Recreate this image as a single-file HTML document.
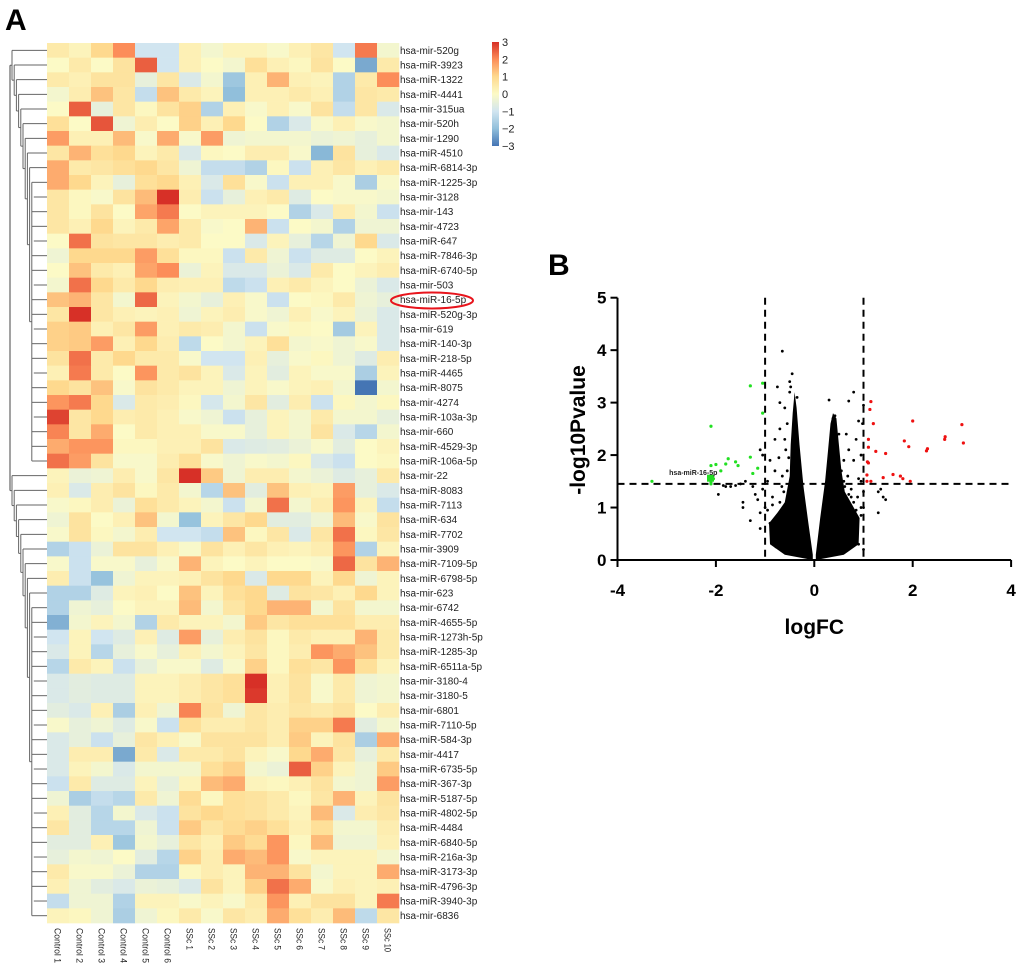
<!DOCTYPE html>
<html><head><meta charset="utf-8"><style>
html,body{margin:0;padding:0;background:#fff;}
svg{display:block;font-family:"Liberation Sans",Arial,sans-serif;}
</style></head><body>
<svg id="fig" width="1020" height="966" viewBox="0 0 1020 966" xmlns="http://www.w3.org/2000/svg">
<text x="5" y="30" font-size="30" font-weight="bold">A</text>
<text x="548" y="275" font-size="30" font-weight="bold">B</text>
<g id="dendro"></g>
<g id="heat"></g>
<g id="rowlabels"></g>
<g id="collabels"></g>
<ellipse cx="432" cy="300.5" rx="41" ry="8" fill="none" stroke="#e8141c" stroke-width="2"/>
<defs><linearGradient id="cb" x1="0" y1="0" x2="0" y2="1">
<stop offset="0" stop-color="#d73027"/><stop offset="0.1667" stop-color="#fc8d59"/><stop offset="0.3333" stop-color="#fed98e"/><stop offset="0.5" stop-color="#fcfac6"/><stop offset="0.6667" stop-color="#d1e5f0"/><stop offset="0.8333" stop-color="#91bfdb"/><stop offset="1" stop-color="#4575b4"/></linearGradient></defs>
<g>
<rect x="492" y="42" width="7" height="104" fill="url(#cb)"/>
<g id="cbticks" font-size="11" fill="#222"></g>
</g>
<g id="volcano"></g>
</svg>
<script>
const NS='http://www.w3.org/2000/svg';
function mk(tag,attrs,parent){const e=document.createElementNS(NS,tag);for(const k in attrs)e.setAttribute(k,attrs[k]);parent.appendChild(e);return e;}

const rowNames=["hsa-mir-520g","hsa-miR-3923","hsa-miR-1322","hsa-miR-4441","hsa-mir-315ua","hsa-mir-520h","hsa-mir-1290","hsa-miR-4510","hsa-miR-6814-3p","hsa-miR-1225-3p","hsa-mir-3128","hsa-mir-143","hsa-mir-4723","hsa-miR-647","hsa-miR-7846-3p","hsa-miR-6740-5p","hsa-mir-503","hsa-miR-16-5p","hsa-miR-520g-3p","hsa-mir-619","hsa-miR-140-3p","hsa-miR-218-5p","hsa-miR-4465","hsa-miR-8075","hsa-mir-4274","hsa-miR-103a-3p","hsa-mir-660","hsa-miR-4529-3p","hsa-miR-106a-5p","hsa-mir-22","hsa-miR-8083","hsa-miR-7113","hsa-miR-634","hsa-miR-7702","hsa-mir-3909","hsa-miR-7109-5p","hsa-miR-6798-5p","hsa-mir-623","hsa-mir-6742","hsa-miR-4655-5p","hsa-miR-1273h-5p","hsa-miR-1285-3p","hsa-miR-6511a-5p","hsa-mir-3180-4","hsa-mir-3180-5","hsa-mir-6801","hsa-miR-7110-5p","hsa-miR-584-3p","hsa-mir-4417","hsa-miR-6735-5p","hsa-miR-367-3p","hsa-miR-5187-5p","hsa-miR-4802-5p","hsa-miR-4484","hsa-miR-6840-5p","hsa-miR-216a-3p","hsa-miR-3173-3p","hsa-miR-4796-3p","hsa-miR-3940-3p","hsa-mir-6836"];
const colNames=["Control 1","Control 2","Control 3","Control 4","Control 5","Control 6","SSc 1","SSc 2","SSc 3","SSc 4","SSc 5","SSc 6","SSc 7","SSc 8","SSc 9","SSc 10"];
const heatValues=[
[0.5,0.2,1,2,-1,-1,0.3,-0.2,0.2,0.2,-0.1,0.3,0.6,-1,2.2,-0.2],
[0,0.5,0,0.7,2.5,-1,0.3,0,-0.2,0.8,0.3,0.1,0.7,0,-2.3,0.5],
[0.5,0.3,0.7,0.7,-0.5,0.6,-0.8,-0.2,-1.8,0.3,1.5,0.3,0.2,-1.5,0.5,2],
[-0.2,0.4,1.3,0.6,-1.2,1.3,0.5,0.2,-2,0.3,0.3,0.5,0.3,-1.5,0.6,0.5],
[0,2.5,-0.5,0.6,0.1,0.7,1.1,-1.5,0.3,-0.1,0.3,-0.1,0.7,-1.2,0.6,-0.8],
[0.8,0,2.6,-0.3,0.4,0,1.1,0.3,1,0,-1.5,-0.8,-0.1,0.3,-0.1,-0.2],
[1.8,0.3,0.3,1.4,-0.1,1.6,-0.1,1.8,-0.3,-0.2,-0.2,-0.2,-0.4,-0.3,-0.5,-0.2],
[0.6,1.5,0.8,1,0.2,0.5,-0.8,0.1,0,0.4,0.4,-0.1,-2.1,0.7,-0.5,-0.8],
[1.6,0.5,0.6,0.8,1,0.6,-0.3,-1.2,-1.2,-1.5,0.1,-1.1,0.3,0.6,0.3,0.5],
[1.6,1,0.2,-0.5,0.8,1,0.3,-0.8,0.8,-0.1,-1.1,0.3,0.3,-0.1,-1.6,-0.1],
[0.6,0.1,-0.1,0.7,1.4,3,0.4,-1.1,-0.5,0.3,0.5,-0.7,0,-0.1,-0.1,-0.2],
[0.6,0.1,0.7,0,1.7,2.2,0,0.2,0.2,0.2,0,-1.5,-0.8,0.4,-0.2,-1.1],
[0.6,0.3,1,0.2,0.5,1.7,0.5,-0.1,0,1.5,-1.1,0,-0.2,-1.5,-0.3,-0.3],
[0,2.3,0.7,0.6,0.6,0.4,0.5,0,0,-0.8,0.2,-0.5,-1.4,-0.3,1,-0.8],
[-0.3,1,1,1,1.8,0.8,0.1,0.1,-1.1,0.5,-0.3,-1.1,-0.7,-0.7,0,0.2],
[0,1.3,0.5,0.3,1.7,2,-0.4,0.2,-0.8,-0.8,-0.4,-0.8,0.5,0,0.2,0.4],
[-0.2,2.3,1,0.5,1,0.4,0.3,0.3,-1.3,-1.1,0.3,0.5,0.2,0,-0.4,-0.8],
[1.3,1.5,0.6,-0.2,2.4,0.2,-0.2,-0.5,0.3,-0.1,-1.1,0,0.1,0.5,-0.3,-0.5],
[0.6,3,0.6,0.3,0.2,0.3,-0.3,0.2,0.4,-0.1,-0.3,0.3,-0.1,0.2,-0.4,-0.8],
[1.1,1.2,0.3,0.6,1.8,0.3,0.5,0.4,-0.2,-1.1,-0.1,0.1,0,-1.7,0.2,-0.8],
[1.1,1.2,1.8,0.3,1,0.4,-1.3,0,-0.2,0.2,0.8,-0.2,-0.1,-0.3,-0.1,-0.8],
[0.7,2.3,0.5,1,0.5,0.5,-0.1,-1,-1,0.3,-0.5,-0.1,0.1,-0.3,-0.7,0.4],
[0.3,2.2,0.5,0,1.9,0.5,0.7,0.2,-0.8,0.2,-0.6,0.2,-0.1,-0.1,-1.6,0.2],
[1,0.7,1.3,-0.1,0.7,0.5,0.2,0.2,-0.3,0.2,-0.1,0.2,0.3,-0.2,-3,-0.2],
[1.9,2.2,1,-0.8,0.5,0.4,0.1,-0.9,-0.2,0.6,-0.6,0.4,-1.1,0.1,-0.2,0.1],
[2.8,0.6,1,0.4,0.5,0.3,-0.1,-0.3,-1.1,-0.5,0.2,-0.2,0.5,-0.2,-0.2,-0.5],
[2.1,0.6,1.6,0,0.5,0.3,0.3,-0.1,-0.1,-0.5,0.2,-0.2,0.7,-0.8,-1.4,-0.2],
[1.6,1.9,1.9,0.1,0.1,0.3,0.3,0.7,-0.8,-0.7,-0.6,-0.4,-0.1,-0.6,0,0.2],
[2.3,1.8,0.7,-0.1,-0.1,0.4,0.8,-0.1,-0.3,-0.1,-0.2,0.1,-0.8,-1.1,0,0.1],
[0.2,-0.4,-0.3,0.4,-0.1,0.6,3,1.2,-0.3,0.4,0.4,-0.2,-0.4,-0.7,-0.5,0.5],
[0.3,-0.8,0.4,0.7,0.1,0.5,-0.2,-1.4,1.3,-0.6,1.3,0.3,0.2,1.8,-0.5,-0.8],
[-0.1,0.1,0.4,-0.4,0.8,0.5,0.2,-0.2,-1.1,-0.2,2.3,-0.2,0.4,1.9,0.2,-1.2],
[-0.3,0.7,0,0.3,1.3,-0.2,-1.9,0.2,0.6,1,-0.6,-0.6,-0.3,1.4,-0.1,0.7],
[-0.1,0.7,0.1,-0.2,0.4,-1,-1,-1.2,1.3,0.1,0.6,-0.8,0.6,2.3,0.1,0.6],
[-1.5,-1.1,-0.4,0.7,0.7,0.3,-0.1,0.7,0.3,0.6,0.3,0.2,0.4,1.9,-1.5,0.2],
[-0.1,-1.1,-0.1,-0.1,-0.5,-0.1,1.5,0.2,0,0.2,0,0,-0.1,2.4,0.7,1.5],
[0.4,-1.1,-1.9,-0.3,0.2,0.2,0.3,0.7,1,-0.8,1,1,0.2,1,-0.3,0.2],
[-1.5,-1.5,-0.7,0.2,0.3,0,1.3,0.2,0.8,1,-0.7,0.7,0.6,0.3,1,0.2],
[-1.5,-0.3,-0.5,0,0.2,0.2,1.4,-0.2,0.6,1,1.5,1.5,-0.2,0.7,-0.2,-0.2],
[-2.2,-0.2,0.2,-0.2,-1.5,0.5,0.2,0.2,-0.2,1.2,0.6,0.8,0.8,0.8,0.4,0.4],
[-1,0.2,-1,-0.7,0.3,-0.7,1.8,-0.5,0.4,0.7,0.1,0.5,0.3,0.3,1.5,0.5],
[-0.8,0.2,-1.4,-0.5,-0.1,-0.5,0.3,-0.2,0.2,0.6,0.1,0.4,1.9,1.6,1.3,0.5],
[-1.4,0.5,0.2,-1.1,-0.5,-0.1,-0.1,-0.7,-0.1,1.1,0.1,0.8,0.6,1.9,0.8,0.2],
[-0.8,-0.6,-0.7,-0.7,0.2,0.2,0.4,0.6,0.8,3,0.3,0.7,-0.1,0.5,-0.3,-0.2],
[-0.8,-0.6,-0.7,-0.7,0.2,0.2,0.4,0.6,0.8,2.9,0.3,0.7,-0.1,0.5,-0.3,-0.2],
[-0.6,-0.8,0.3,-1.6,0.3,-0.3,2.1,0.7,-0.3,0.6,0.4,0.6,0.5,0.7,0,0.4],
[-0.1,-0.5,-0.3,-0.7,-0.1,-1.1,0.8,0.4,0.4,0.6,0.4,1.1,1.1,2.2,-0.6,-0.2],
[-0.8,-0.5,-1.1,-0.5,0.6,0.3,-0.1,0.7,0.7,0.7,0.4,1.2,0.2,0.7,-1.6,1.6],
[-0.8,0.4,0.4,-2.3,0.5,-0.8,0.5,0.5,0.7,0.2,-0.1,1,1.6,0.6,-0.5,0.5],
[-0.8,0.2,-0.2,-0.8,-0.2,-0.2,-0.2,0.8,1.1,-0.2,-0.4,2.5,1.1,0.2,-0.3,1.2],
[-1.1,0.5,-0.7,-0.7,0.2,-0.5,0.2,1.4,1.6,0.2,0.1,0.3,0.7,-0.2,-0.3,1.8],
[-0.3,-1.6,-1.2,-1.4,0.5,-0.3,0.9,0.1,0.8,0.7,0.5,0.1,0.6,1.5,0.2,0.7],
[0.3,-0.6,-1.4,-0.2,-0.8,-1.1,0.7,1,0.8,0.7,0.5,0.2,1.4,-0.8,0.4,0.6],
[0.6,-0.6,-1.4,-1.4,-0.3,-1.1,1.2,0.6,0.9,1.1,0.8,0.3,0.8,-0.2,-0.2,0.4],
[-0.6,-0.6,0.3,-1.8,-0.2,-0.5,0.6,0.3,1.2,0.9,1.9,0.1,1.4,-0.3,-0.3,0.3],
[-0.5,-0.2,-0.3,0,-0.6,-1.4,1.1,0.4,1.6,1.4,1.9,-0.1,0.2,0.2,0.2,-0.2],
[0.5,-0.1,-0.1,-0.4,-1.5,-1.5,0.1,0.4,0.2,1.5,1.5,0.7,-0.2,0.2,0.2,1.6],
[0.3,-0.3,-0.6,-0.8,-0.4,-0.5,-0.8,0.7,0.2,1.1,2.3,1.6,-0.1,0.3,0.2,0.3],
[-1.2,-0.3,-0.3,-1.5,0.2,0.2,-0.1,0.2,-0.1,0.5,1.9,0.3,0.7,0.7,0.2,2.2],
[0.2,0.1,-0.3,-1.6,-0.3,0.1,0.5,-0.1,0.6,0.4,1.6,0.8,0.4,1.4,-1.3,0.6]];
const legendTicks=[3,2,1,0,-1,-2,-3];

const greenX=[-3.3,-2.1,-2.1,-2,-1.9,-1.8,-1.75,-1.6,-1.55,-1.3,-1.25,-1.15,-1.3,-1.05,-1.05,-2.1,-2.05,-2.1,-2.08];
const greenY=[1.5,2.55,1.8,1.82,1.7,1.83,1.93,1.87,1.8,1.96,1.65,1.75,3.32,3.37,2.8,1.5,1.55,1.45,1.58];
const redX=[1.15,1.13,1.2,1.1,1.1,1.25,1.45,1.08,1.1,1.07,1.07,1.15,1.4,1.6,1.75,1.8,1.95,1.83,1.92,2,2.28,2.3,2.65,2.66,3,3.03];
const redY=[3.02,2.87,2.6,2.3,2.15,2.07,2.03,1.87,1.85,1.62,1.5,1.5,1.57,1.63,1.6,1.55,1.5,2.27,2.16,2.65,2.08,2.12,2.3,2.35,2.58,2.23];
const blackX=[-0.65,-0.45,-0.5,-0.48,-0.5,-0.75,-0.7,-0.6,-0.55,-0.7,-0.6,-0.35,-1.1,-1.05,-0.9,-0.72,-0.8,-0.95,-1.4,-1.6,-1.8,-1.85,-1.95,-2.1,-1.45,-1.45,-1.2,-1.15,-1.1,-1.3,-1.05,-0.85,-1,-1.1,0.3,0.42,0.38,0.7,0.8,0.9,0.5,0.65,0.7,0.85,0.95,0.8,0.9,0.95,1.0,0.98,1.0,1.0,0.95,1.35,1.3,1.4,1.45,1.3,1.0,0.9,0.6,0.7,0.75,0.6,0.5,-1.25,-1.5,-1.7,-0.8,-0.65,-0.95,-0.85,-0.7,-0.62,-0.55,-0.52,-0.58,-0.66,-0.9,-0.78,0.62,0.7,0.8,0.88,0.95,0.55,0.6,0.68,0.75,0.85];
const blackY=[3.98,3.55,3.4,3.3,3.2,3.3,3.0,2.9,2.6,2.5,2.3,3.1,2.1,2.0,1.9,1.95,1.7,1.5,1.5,1.42,1.4,1.42,1.25,1.47,1.1,1.0,1.25,1.15,0.9,0.75,1.35,1.2,1.0,0.6,3.05,2.75,2.7,3.03,3.2,2.65,2.4,2.4,2.1,2.3,2.0,1.9,1.55,1.5,2.95,2.6,1.3,1.0,0.85,1.35,1.3,1.2,1.15,0.9,0.2,0.3,0.4,0.6,1.2,1.5,1.8,1.4,1.45,1.4,2.3,1.6,0.95,1.05,1.1,1.3,1.7,1.95,2.1,1.4,0.7,0.25,1.4,1.25,1.1,1.2,1.0,1.7,1.9,1.6,1.35,0.95];
const cloudLeftX=[-0.03,-0.6,-0.9,-0.92,-0.75,-0.6,-0.5,-0.48,-0.44,-0.4,-0.36,-0.3,-0.22,-0.12,-0.03];
const cloudLeftY=[0,0.1,0.3,0.7,0.9,1.1,1.6,2.2,2.8,3.2,2.9,2.2,1.4,0.7,0.1];
const cloudRightX=[0.03,0.12,0.22,0.28,0.33,0.38,0.45,0.5,0.55,0.62,0.8,0.92,0.9,0.6,0.03];
const cloudRightY=[0.1,0.8,1.5,2.1,2.6,2.8,2.7,2.2,1.7,1.3,1.0,0.8,0.3,0.1,0];
const xTicks=[-4,-2,0,2,4];
const yTicks=[0,1,2,3,4,5];
const thresholdX=[-1,1];
const thresholdY=[1.45];

const hx0=47,hy0=43,cw=22,rh=14.667;
const stops=[[-3,[69,117,180]],[-2,[145,191,219]],[-1,[209,229,240]],[0,[252,250,198]],[1,[254,217,142]],[2,[252,141,89]],[3,[215,48,39]]];
function colorFor(v){v=Math.max(-3,Math.min(3,v));for(let i=0;i<stops.length-1;i++){const a=stops[i],b=stops[i+1];if(v<=b[0]){const t=(v-a[0])/(b[0]-a[0]);const c=a[1].map((x,k)=>Math.round(x+(b[1][k]-x)*t));return 'rgb('+c.join(',')+')';}}return 'rgb(215,48,39)';}
const heat=document.getElementById('heat');
heatValues.forEach((row,r)=>{row.forEach((v,c)=>{
const el=mk('rect',{x:hx0+c*cw,y:(hy0+r*rh).toFixed(2),width:cw+0.3,height:(rh+0.3).toFixed(2),fill:colorFor(v)},heat);


});});
const rl=document.getElementById('rowlabels');
rowNames.forEach((n,r)=>{
const t=mk('text',{x:400,y:(hy0+(r+0.5)*rh+3.5).toFixed(1),'font-size':'10',fill:'#222'},rl);t.textContent=n;


});
const cl=document.getElementById('collabels');
colNames.forEach((n,c)=>{const cx=hx0+(c+0.5)*cw-3.5;
const len=n.indexOf('Control')===0?35:(n.length>5?24:22);
const t=mk('text',{x:cx,y:928,'font-size':'9.5',fill:'#222',textLength:len,lengthAdjust:'spacingAndGlyphs',transform:'rotate(90 '+cx+' 928)'},cl);t.textContent=n;


});
const cbt=document.getElementById('cbticks');
legendTicks.forEach(v=>{const y=42+(3-v)/6*104;
const t=mk('text',{x:502,y:(y+4).toFixed(1),'font-size':'11',fill:'#222'},cbt);t.textContent=(v<0?'\u2212':'')+Math.abs(v);


});

const dg=document.getElementById('dendro');
const ry=i=>hy0+(i+0.5)*rh;
function seg(x1,y1,x2,y2,col){const l=mk('line',{x1,y1,x2,y2,stroke:col||'#666','stroke-width':1},dg);}
function ladder(lo,hi,xs){
  const spineX=31;
  function build(l,h,x){
    if(l===h){seg(x,ry(l),hx0,ry(l));return ry(l);}
    if(x>=spineX-1){
      seg(x,ry(l),hx0,ry(l));seg(x,ry(h),hx0,ry(h));
      for(let i=l+1;i<h;i++)seg(x+(i%3===1?2:0),ry(i),hx0,ry(i));
      seg(x,ry(l),x,ry(h));return (ry(l)+ry(h))/2;}
    const y1=ry(l);seg(x,y1,hx0,y1);
    const y2=build(l+1,h,x+2.2);seg(x,y2,x+2.2,y2);
    seg(x,y1,x,y2);return (y1+y2)/2;
  }
  return build(lo,hi,xs);
}
const yA=ladder(0,28,12);
const yB=ladder(29,59,12);
seg(10,yA,12,yA);seg(10,yB,12,yB);seg(10,yA,10,yB,'#444');

const vg=document.getElementById('volcano');
const X=v=>814.3+v*49.2;
const Y=v=>560-v*52.46;
function vm(tag,attrs,name){const e=mk(tag,attrs,vg);return e;}
const poly=(xs,ys)=>xs.map((x,i)=>X(x).toFixed(1)+','+Y(ys[i]).toFixed(1)).join(' ');
vm('polygon',{points:poly(cloudLeftX,cloudLeftY),fill:'#000'},'dense-cloud-left');
vm('polygon',{points:poly(cloudRightX,cloudRightY),fill:'#000'},'dense-cloud-right');
blackX.forEach((x,i)=>vm('circle',{cx:X(x),cy:Y(blackY[i]),r:1.4,fill:'#000'},'point-ns'));
greenX.forEach((x,i)=>vm('circle',{cx:X(x),cy:Y(greenY[i]),r:1.6,fill:'#22e022'},'point-down'));
redX.forEach((x,i)=>vm('circle',{cx:X(x),cy:Y(redY[i]),r:1.6,fill:'#ee1111'},'point-up'));
vm('rect',{x:X(-2.12)-3,y:Y(1.55)-4,width:7,height:7,fill:'#22dd22'},'mir16-marker');
const lab=vm('text',{x:X(-2.95),y:Y(1.6)-1,'font-size':'7','font-weight':'bold',fill:'#222'},'mir16-label');lab.textContent='hsa-miR-16-5p';
thresholdX.forEach(t=>vm('line',{x1:X(t),y1:Y(5),x2:X(t),y2:Y(0),stroke:'#000','stroke-width':2,'stroke-dasharray':'7,5'},'threshold-x'));
thresholdY.forEach(t=>vm('line',{x1:X(-4),y1:Y(t),x2:X(4),y2:Y(t),stroke:'#000','stroke-width':2,'stroke-dasharray':'7,5'},'threshold-y'));
vm('line',{x1:X(-4),y1:Y(0),x2:X(4),y2:Y(0),stroke:'#000','stroke-width':2},'x-axis');
vm('line',{x1:X(-4),y1:Y(0)+1,x2:X(-4),y2:Y(5),stroke:'#000','stroke-width':2},'y-axis');
xTicks.forEach(t=>{vm('line',{x1:X(t),y1:Y(0),x2:X(t),y2:Y(0)+7,stroke:'#000','stroke-width':2},'x-tick');
const tt=vm('text',{x:X(t),y:596,'font-size':'17','font-weight':'bold','text-anchor':'middle'},'x-tick-label');tt.textContent=t;});
yTicks.forEach(t=>{vm('line',{x1:X(-4)-7,y1:Y(t),x2:X(-4),y2:Y(t),stroke:'#000','stroke-width':2},'y-tick');
const tt=vm('text',{x:X(-4)-11,y:Y(t)+6,'font-size':'17','font-weight':'bold','text-anchor':'end'},'y-tick-label');tt.textContent=t;});
const xt=vm('text',{x:X(0),y:634,'font-size':'21','font-weight':'bold','text-anchor':'middle'},'x-axis-title');xt.textContent='logFC';
const yt=vm('text',{x:585,y:430,'font-size':'21','font-weight':'bold','text-anchor':'middle',transform:'rotate(-90 585 430)'},'y-axis-title');yt.textContent='-log10Pvalue';
</script>
</body></html>
